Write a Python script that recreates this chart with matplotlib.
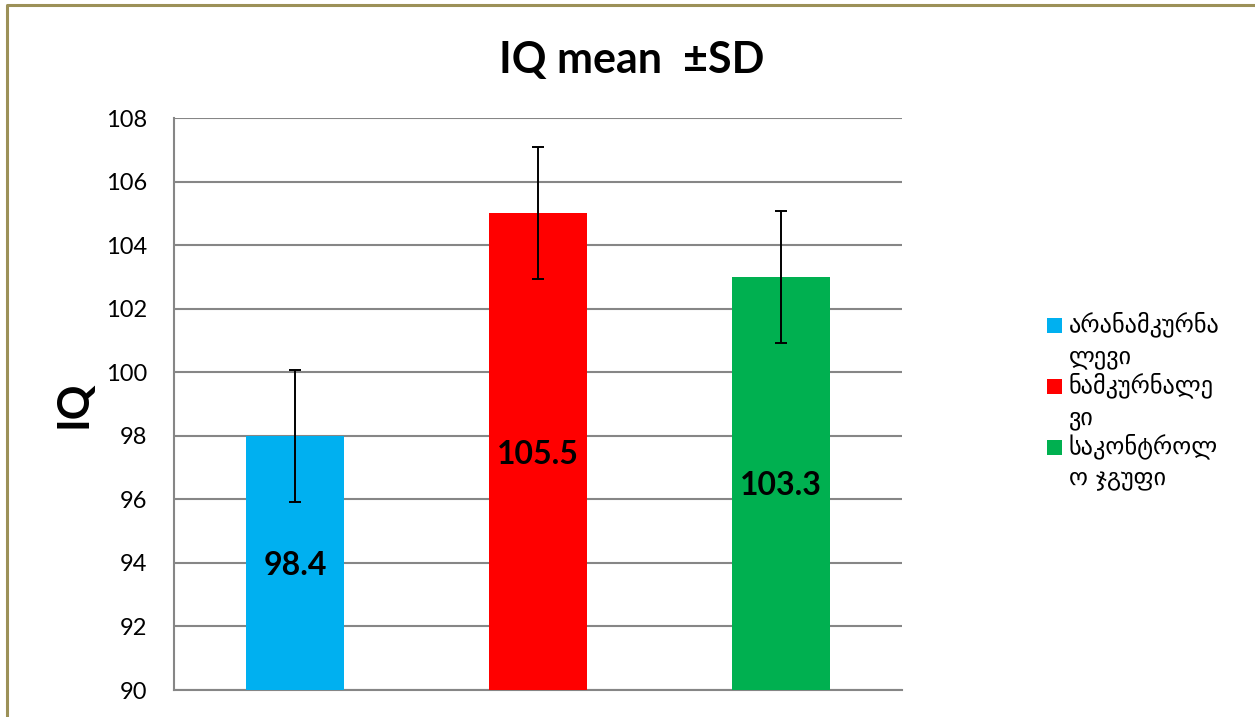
import matplotlib
matplotlib.use('Agg')
import matplotlib.pyplot as plt
from matplotlib.patches import Rectangle
from matplotlib.lines import Line2D

plt.rcParams['font.family'] = ['Lato', 'DejaVu Sans']

groups = ['არანამკურნა\nლევი', 'ნამკურნალე\nვი', 'საკონტროლ\nო ჯგუფი']
bar_heights = [98, 105, 103]
bar_labels = ['98.4', '105.5', '103.3']
sd = [2.08, 2.08, 2.08]
colors = ['#00B0F0', '#FF0000', '#00B050']
yticks = [90, 92, 94, 96, 98, 100, 102, 104, 106, 108]

fig = plt.figure(figsize=(12.55, 7.17), dpi=100)
ax = fig.add_axes([174/1255, 1 - 690/717, 728/1255, 572/717])

x = range(len(groups))
ax.bar(x, [h - 90 for h in bar_heights], bottom=90, width=0.404, color=colors, zorder=3)
ax.errorbar(x, bar_heights, yerr=sd, fmt='none', ecolor='black', elinewidth=1.4,
            capsize=4, capthick=1.4, zorder=4)

for i in x:
    ax.text(i, (90 + bar_heights[i]) / 2, bar_labels[i], ha='center', va='center_baseline',
            fontsize=23, fontweight='bold', color='black', zorder=5)

ax.set_xlim(-0.5, 2.5)
ax.set_ylim(90, 108)
ax.set_yticks(yticks)
ax.set_xticks([])
ax.yaxis.grid(True, color='#868686', linewidth=1.5, zorder=0)
ax.tick_params(axis='y', length=0, pad=19, labelsize=17)
for s in ['top', 'right']:
    ax.spines[s].set_visible(False)
for s in ['left', 'bottom']:
    ax.spines[s].set_color('#868686')
    ax.spines[s].set_linewidth(1.5)

ax.set_ylabel('IQ', fontsize=31, fontweight='bold')
ax.yaxis.set_label_coords(-0.138, 0.5)
ax.yaxis.label.set_va('center')

fig.text(632/1255, 1 - 60/717, 'IQ mean  ±SD', ha='center', va='center',
         fontsize=31, fontweight='bold')

# legend drawn by hand so the swatch sits on the first line of wrapped text
for i, (lab, c) in enumerate(zip(groups, colors)):
    yc = 325 + i * 61
    fig.patches.append(Rectangle((1047/1255, 1 - (yc + 7.5)/717), 15/1255, 15/717,
                                 transform=fig.transFigure, facecolor=c, edgecolor='none'))
    fig.text(1069/1255, 1 - (yc - 14)/717, lab, ha='left', va='top', fontsize=17.5,
             linespacing=1.42, family=['DejaVu Sans'])

# outer chart border (only left and top are in frame)
fig.add_artist(Line2D([7/1255, 7/1255, 1.0], [0.0, 1 - 5/717, 1 - 5/717],
                      transform=fig.transFigure, color='#9C9158', linewidth=2.2))

fig.savefig('out.png', dpi=100)
